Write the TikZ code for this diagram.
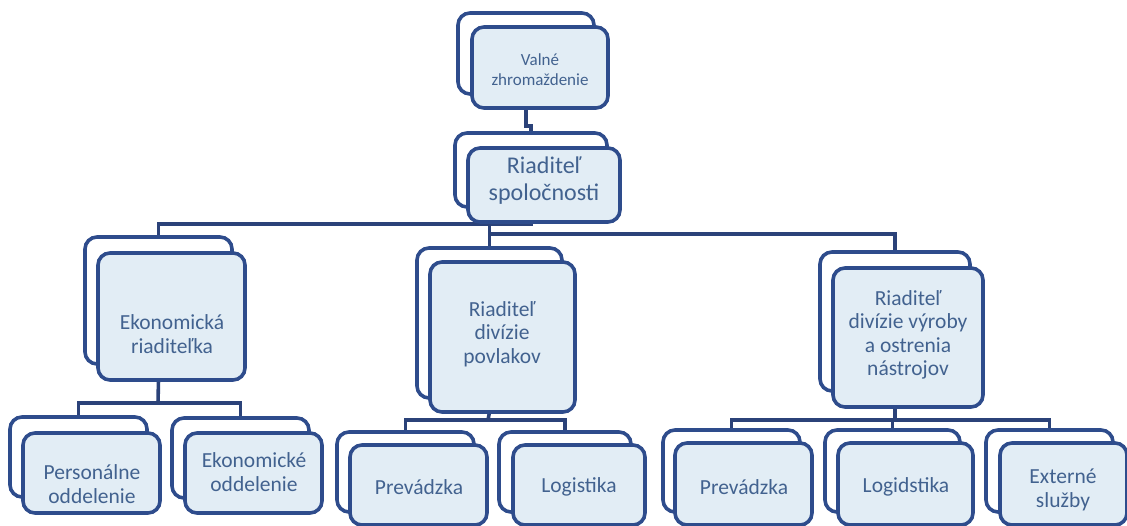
\documentclass[tikz,border=0pt]{standalone}
\usepackage{fontspec}
\setmainfont{Carlito}
\usetikzlibrary{backgrounds}
\definecolor{navy}{HTML}{2E4C8C}
\definecolor{lineblue}{HTML}{2B4279}
\definecolor{fillblue}{HTML}{E2EDF5}
\definecolor{txtblue}{HTML}{42628F}
\tikzset{
  boxbase/.style={draw=navy, line width=3.6pt, rounded corners=12pt, inner sep=0pt, outer sep=0pt},
  backbox/.style={boxbase, fill=white},
  frontbox/.style={boxbase, fill=fillblue},
  conn/.style={draw=lineblue, line width=3.6pt},
  lbl/.style={text=txtblue, align=center, inner sep=0pt},
  lblS/.style={lbl, font=\fontsize{17}{20}\selectfont},
  lblL/.style={lbl, font=\fontsize{24}{27}\selectfont},
  lblM/.style={lbl, font=\fontsize{21.5}{23.5}\selectfont},
}
\newcommand\orgnode[7]{%
  \node[backbox, minimum width=#4pt, minimum height=#5pt] (#1b) at (#6+#4/2, #7+#5/2) {};
  \node[frontbox, minimum width=#4pt, minimum height=#5pt] (#1) at (#2+#4/2, #3+#5/2) {};
}
\begin{document}
\begin{tikzpicture}[x=1pt, y=-1pt]
\useasboundingbox (0,0) rectangle (1127,526);
% boxes: name, front x, front y, w, h, back x, back y
\orgnode{vz}{472}{27}{136}{81}{458}{13}
\orgnode{rs}{468}{148}{152}{74}{455}{133}
\orgnode{ek}{98}{253}{147}{127}{85}{237}
\orgnode{pe}{23}{433}{137}{80}{10}{417}
\orgnode{eo}{185}{433}{137}{80}{172}{418}
\orgnode{pv}{430}{262}{145}{150}{417}{248}
\orgnode{pa}{350}{445}{137}{80}{337}{432}
\orgnode{lg}{513}{445}{132}{80}{499}{432}
\orgnode{rd}{833}{268}{150}{139}{820}{252}
\orgnode{pb}{675}{443}{137}{82}{663}{430}
\orgnode{ld}{838}{443}{135}{82}{825}{430}
\orgnode{ex}{1000}{443}{127}{82}{986}{430}
% labels
\node[lblS] (vzt) at (540,70) {Valné\\zhromaždenie};
\node[lblL] (rst) at (544,181) {Riaditeľ\\spoločnosti};
\node[lblM] (ekt) at (172,334) {Ekonomická\\riaditeľka};
\node[lblM] (pet) at (92,484) {Personálne\\oddelenie};
\node[lblM] (eot) at (254,472) {Ekonomické\\oddelenie};
\node[lblM] (pvt) at (502,334) {Riaditeľ\\divízie\\povlakov};
\node[lblM] (pat) at (419,487) {Prevádzka};
\node[lblM] (lgt) at (579,487) {Logistika};
\node[lblM] (rdt) at (908,335) {Riaditeľ\\divízie výroby\\a ostrenia\\nástrojov};
\node[lblM] (pbt) at (744,487) {Prevádzka};
\node[lblM] (ldt) at (906,487) {Logidstika};
\node[lblM] (ext) at (1063,490) {Externé\\služby};
% connectors
\coordinate (barL) at (531,224);
\coordinate (barR) at (488,234);
\coordinate (barEk) at (158,403);
\coordinate (barPv) at (488,420);
\coordinate (barRd) at (895,420);
\begin{scope}[on background layer]
\draw[conn] (vzb |- vz.south) -- ++(0,18) -| (rsb.north);
\draw[conn] (rsb |- rs.south) -- (barL) -| (ekb.north);
\draw[conn] (barL) -| (pvb.north);
\draw[conn] (barR) -| (rdb.north);
\draw[conn] (ekb |- ek.south) -- (barEk);
\draw[conn] (barEk) -| (peb.north);
\draw[conn] (barEk) -| (eob.north);
\draw[conn] (pvb |- pv.south) -- (barPv);
\draw[conn] (barPv) -| (pab.north);
\draw[conn] (barPv) -| (lgb.north);
\draw[conn] (rdb |- rd.south) -- (barRd);
\draw[conn] (barRd) -| (pbb.north);
\draw[conn] (barRd) -| (ldb.north);
\draw[conn] (barRd) -| (exb.north);
\end{scope}
\end{tikzpicture}
\end{document}
